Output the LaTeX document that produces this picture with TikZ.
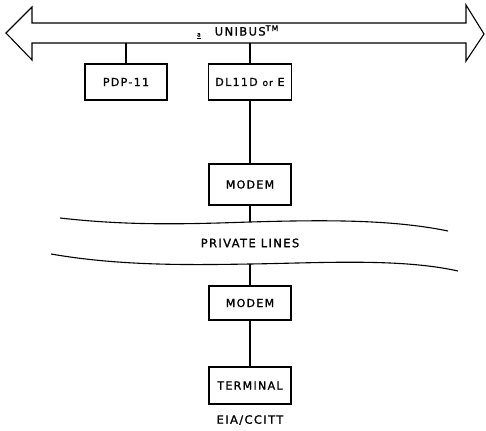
\documentclass[tikz,border=0pt]{standalone}
\usepackage{fontspec}
\setmainfont{DejaVu Sans}
\newfontfamily\lblfont[LetterSpace=12,FakeBold=1.2]{DejaVu Sans}
\usetikzlibrary{calc}
\tikzset{
  unitbox/.style = {draw, line width=1.1pt, minimum width=82pt, minimum height=36pt,
                    inner sep=0pt, font=\lblfont\fontsize{11}{13}\selectfont},
  wireln/.style  = {line width=1.1pt},
  buspath/.style = {line width=1.1pt, line join=miter},
  plaintxt/.style = {inner sep=0pt, font=\lblfont\fontsize{11.5}{13}\selectfont}
}

\begin{document}
\begin{tikzpicture}[x=1pt,y=-1pt]
  \useasboundingbox (0,0) rectangle (486,430);
  % the bus
  \draw[buspath] (6,33) -- (32,7) -- (32,23) -- (466,23) -- (466,5) -- (484,34)
        -- (466,61) -- (466,43) -- (32,43) -- (32,60) -- cycle;
  \node[plaintxt] (bustxt) at (238,32) {\raisebox{-1pt}{\underline{\fontsize{6}{7}\selectfont a}}\hspace{14pt}UNIBUS\textsuperscript{\fontsize{8}{9}\selectfont TM}};
  \coordinate (tapP) at (126,43);
  \coordinate (tapD) at (250,43);
  % units on the bus
  \node[unitbox] (pdp) at (126,82) {PDP-11};
  \node[unitbox, minimum width=83pt] (dl) at (250,82) {DL11D {\fontsize{9}{10}\selectfont or} E};
  \node[unitbox, minimum height=41pt] (modemA) at (250,184.5) {MODEM};
  % private lines
  \draw[wireln] (60,218) .. controls (130,226) and (190,224) .. (250,222)
        .. controls (320,220) and (390,219) .. (448,231);
  \draw[wireln] (51,254) .. controls (120,266) and (190,265) .. (250,264)
        .. controls (320,263) and (400,258) .. (458,271);
  \coordinate (lineA) at (250,222);
  \coordinate (lineB) at (250,264);
  \node[plaintxt] (privtxt) at (250,243) {PRIVATE LINES};
  % remote end
  \node[unitbox, minimum height=34pt] (modemB) at (250,303) {MODEM};
  \node[unitbox, minimum height=37pt] (term) at (250,385.5) {TERMINAL};
  \node[plaintxt] (eiatxt) at (250,420) {EIA/CCITT};
  % connections
  \draw[wireln] (tapP) -- (pdp.north);
  \draw[wireln] (tapD) -- (dl.north);
  \draw[wireln] (dl) -- (modemA);
  \draw[wireln] (modemA) -- (lineA);
  \draw[wireln] (lineB) -- (modemB.north);
  \draw[wireln] (modemB) -- (term);
\end{tikzpicture}
\end{document}
